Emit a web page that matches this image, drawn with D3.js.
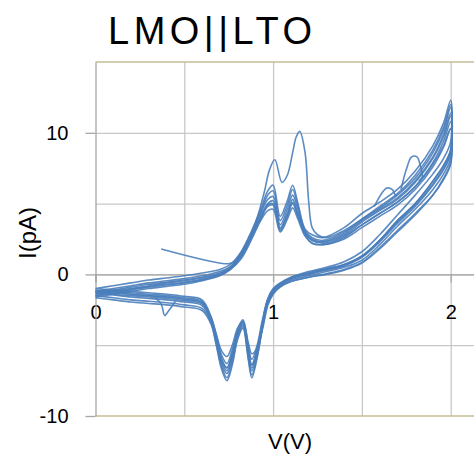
<!DOCTYPE html>
<html>
<head>
<meta charset="utf-8">
<script src="https://cdnjs.cloudflare.com/ajax/libs/d3/7.8.5/d3.min.js"></script>
<style>
  body { margin: 0; background: #fff; }
  svg { display: block; font-family: "Liberation Sans", Arial, sans-serif; }
</style>
</head>
<body>
<svg id="chart" width="474" height="454"></svg>
<script>
// Tick values / labels
const xTicks = [0, 1, 2];
const xGrid = [0.5, 1, 1.5, 2, 2.5];
const yTicks = [-10, 0, 10];
const yGrid = [-5, 0, 5, 10];

// Voltage grids (V) for the forward and reverse sweeps
const anodicV = [0, 0.1, 0.2, 0.3, 0.4, 0.5, 0.6, 0.7, 0.76, 0.82, 0.88, 0.93, 0.97, 1.0, 1.04, 1.08, 1.11, 1.14, 1.18, 1.22, 1.28, 1.4, 1.5, 1.6, 1.7, 1.8, 1.9, 1.96, 2.0];
const cathodicV = [2.0, 1.96, 1.9, 1.8, 1.7, 1.6, 1.5, 1.4, 1.3, 1.2, 1.1, 1.04, 1.0, 0.97, 0.94, 0.91, 0.88, 0.86, 0.83, 0.8, 0.77, 0.74, 0.71, 0.68, 0.65, 0.6, 0.5, 0.4, 0.3, 0.2, 0.1, 0];

// Current (pA) per cycle, forward sweep
const anodic1 = [-1.0, -0.8, -0.6, -0.4, -0.25, -0.1, 0.1, 0.35, 0.7, 1.6, 3.1, 4.6, 5.9, 6.3, 4.1, 5.2, 6.3, 5.0, 3.2, 2.8, 2.6, 3.3, 4.3, 5.1, 6.0, 7.3, 9.1, 10.7, 12.3];
const anodic2 = [-1.2, -1.0, -0.8, -0.6, -0.45, -0.3, -0.1, 0.2, 0.55, 1.5, 3.0, 4.4, 5.6, 5.9, 3.8, 4.9, 6.0, 4.8, 3.1, 2.6, 2.4, 3.0, 3.9, 4.7, 5.6, 6.8, 8.6, 10.2, 11.8];
const anodic3 = [-1.3, -1.1, -0.9, -0.7, -0.55, -0.4, -0.2, 0.1, 0.5, 1.4, 2.9, 4.3, 5.3, 5.5, 3.5, 4.6, 5.6, 4.6, 3.0, 2.5, 2.3, 2.9, 3.8, 4.6, 5.4, 6.6, 8.3, 9.9, 11.4];
const anodic4 = [-1.45, -1.25, -1.05, -0.85, -0.7, -0.55, -0.35, 0.0, 0.45, 1.3, 2.7, 4.1, 5.0, 5.2, 3.3, 4.3, 5.3, 4.3, 2.9, 2.4, 2.2, 2.7, 3.5, 4.3, 5.1, 6.2, 7.9, 9.4, 10.8];
const anodic5 = [-1.6, -1.4, -1.2, -1.0, -0.85, -0.7, -0.45, -0.1, 0.35, 1.2, 2.6, 3.9, 4.8, 4.9, 3.1, 4.1, 5.0, 4.1, 2.8, 2.2, 2.1, 2.5, 3.3, 4.1, 4.9, 6.0, 7.6, 9.0, 10.3];
const anodic6 = [-1.35, -1.15, -1.0, -0.8, -0.6, -0.45, -0.25, 0.05, 0.5, 1.35, 2.8, 4.0, 4.9, 5.0, 3.2, 4.2, 5.1, 4.2, 2.9, 2.4, 2.3, 2.8, 3.7, 4.5, 5.3, 6.5, 8.2, 9.7, 11.2];
const anodic7 = [-1.5, -1.3, -1.1, -0.9, -0.75, -0.6, -0.4, -0.05, 0.35, 1.1, 2.5, 3.8, 4.5, 4.6, 3.0, 3.9, 4.7, 3.9, 2.7, 2.2, 2.1, 2.6, 3.5, 4.3, 5.1, 6.2, 7.8, 9.1, 10.3];

// Current (pA) per cycle, reverse sweep
const cathodic1 = [9.4, 8.2, 7.1, 5.6, 4.2, 2.8, 1.6, 0.9, 0.5, 0.2, -0.2, -0.6, -1.0, -1.7, -3.2, -5.0, -6.0, -5.0, -3.2, -3.9, -5.3, -6.3, -5.7, -4.3, -3.0, -1.8, -1.55, -1.4, -1.3, -1.2, -1.1, -1.0];
const cathodic2 = [8.8, 7.7, 6.6, 5.0, 3.8, 2.4, 1.3, 0.7, 0.4, 0.1, -0.25, -0.65, -1.1, -1.8, -3.4, -5.3, -6.4, -5.3, -3.4, -4.1, -5.6, -6.6, -6.0, -4.5, -3.1, -2.0, -1.75, -1.6, -1.5, -1.4, -1.3, -1.2];
const cathodic3 = [8.5, 7.4, 6.3, 4.8, 3.6, 2.3, 1.2, 0.6, 0.3, 0.0, -0.3, -0.7, -1.2, -1.9, -3.6, -5.6, -6.8, -5.6, -3.6, -4.3, -5.9, -7.0, -6.3, -4.7, -3.3, -2.2, -1.95, -1.8, -1.7, -1.6, -1.45, -1.3];
const cathodic4 = [8.2, 7.1, 6.0, 4.6, 3.4, 2.1, 1.0, 0.5, 0.2, -0.1, -0.4, -0.8, -1.3, -2.0, -3.7, -5.8, -7.1, -5.8, -3.7, -4.5, -6.2, -7.3, -6.5, -4.9, -3.4, -2.4, -2.15, -2.0, -1.9, -1.8, -1.65, -1.5];
const cathodic5 = [7.9, 6.8, 5.6, 4.2, 3.0, 1.8, 0.8, 0.3, 0.0, -0.2, -0.5, -0.85, -1.35, -2.1, -3.8, -5.9, -7.3, -6.0, -3.8, -4.6, -6.4, -7.5, -6.7, -5.0, -3.5, -2.55, -2.3, -2.15, -2.05, -1.95, -1.8, -1.65];
const cathodic6 = [8.6, 7.5, 6.4, 4.9, 3.7, 2.4, 1.25, 0.65, 0.35, 0.05, -0.3, -0.7, -1.15, -1.85, -3.5, -5.4, -6.6, -5.5, -3.5, -4.2, -5.8, -6.8, -6.1, -4.6, -3.2, -2.1, -1.85, -1.7, -1.6, -1.5, -1.4, -1.25];
const cathodic7 = [7.8, 6.7, 5.6, 4.3, 3.1, 1.9, 0.85, 0.35, 0.05, -0.2, -0.5, -0.9, -1.4, -2.2, -3.9, -5.2, -5.6, -4.8, -3.3, -3.8, -5.0, -5.8, -5.4, -4.2, -3.0, -1.9, -1.65, -1.5, -1.4, -1.3, -1.2, -1.1];

// First cycle: starts at open circuit, larger oxidation peaks
const firstV = [0.37, 0.75, 0.78, 0.84, 0.9, 0.95, 0.98, 1.01, 1.05, 1.08, 1.11, 1.13, 1.15, 1.18, 1.2, 1.22, 1.25, 1.3, 1.4, 1.5, 1.6, 1.7, 1.8, 1.9, 1.96, 2.0];
const firstI = [1.8, 0.75, 0.9, 1.9, 3.6, 5.8, 7.4, 8.1, 6.5, 7.0, 8.6, 9.7, 10.1, 8.6, 5.2, 3.3, 2.8, 2.6, 3.1, 3.9, 4.8, 5.7, 7.0, 8.8, 10.4, 12.0];

// Small excursions seen on single cycles
const bumpHighV = [1.72, 1.75, 1.78, 1.81, 1.83, 1.84, 1.82];
const bumpHighI = [6.0, 7.4, 8.3, 8.3, 7.6, 6.9, 6.6];
const bumpLowV = [1.57, 1.61, 1.64, 1.67, 1.69];
const bumpLowI = [4.8, 5.7, 6.1, 6.0, 5.5];
const dipV = [0.34, 0.37, 0.39, 0.41, 0.45];
const dipI = [-1.7, -2.1, -2.9, -2.6, -1.9];

const anodics = [anodic1, anodic2, anodic3, anodic4, anodic5, anodic6, anodic7];
const cathodics = [cathodic1, cathodic2, cathodic3, cathodic4, cathodic5, cathodic6, cathodic7];

// Layout
const margin = { top: 62, left: 95.5 };
const width = 444;
const height = 354;

const xScale = d3.scaleLinear().domain([0, 2.5]).range([0, width]);
const yScale = d3.scaleLinear().domain([-10, 15]).range([height, 0]);

const svg = d3.select('svg#chart');
const g = svg.append('g')
    .attr('transform', `translate(${margin.left}, ${margin.top})`);

// Grid lines
g.append('g')
    .attr('transform', `translate(0, ${height})`)
    .call(d3.axisBottom(xScale).tickValues(xGrid).tickSize(-height).tickFormat(''))
    .call(s => s.select('.domain').remove())
    .selectAll('line').attr('stroke', '#c8c8c8').attr('stroke-width', 1.3);

g.append('g')
    .call(d3.axisLeft(yScale).tickValues(yGrid).tickSize(-width).tickFormat(''))
    .call(s => s.select('.domain').remove())
    .selectAll('line').attr('stroke', '#c8c8c8').attr('stroke-width', 1.3);

// Top / bottom frame
g.append('line')
    .attr('x1', 0).attr('x2', width).attr('y1', 0).attr('y2', 0)
    .attr('stroke', '#c6bc98').attr('stroke-width', 1.5);
g.append('line')
    .attr('x1', 0).attr('x2', width).attr('y1', height).attr('y2', height)
    .attr('stroke', '#c6bc98').attr('stroke-width', 1.5);

// Axes
const xAxis = g.append('g')
    .attr('transform', `translate(0, ${yScale(0)})`)
    .call(d3.axisBottom(xScale).tickValues(xTicks).tickSize(8).tickPadding(22).tickFormat(d => String(d)));
xAxis.select('.domain').attr('stroke', '#a6a6a6').attr('stroke-width', 1.3);
xAxis.selectAll('line').attr('stroke', '#a6a6a6').attr('stroke-width', 1.3);
xAxis.selectAll('text').attr('font-size', 20).attr('fill', '#000')
    .attr('font-family', '"Liberation Sans", Arial, sans-serif');

const yAxis = g.append('g')
    .call(d3.axisLeft(yScale).tickValues(yTicks).tickSize(10).tickPadding(17).tickSizeOuter(0).tickFormat(d => String(d)));
yAxis.select('.domain').attr('stroke', '#a6a6a6').attr('stroke-width', 1.3);
yAxis.selectAll('line').attr('stroke', '#a6a6a6').attr('stroke-width', 1.3);
yAxis.selectAll('text').attr('font-size', 20).attr('fill', '#000')
    .attr('font-family', '"Liberation Sans", Arial, sans-serif');

// Curves
const line = d3.line()
    .x(d => xScale(d[0]))
    .y(d => yScale(d[1]))
    .curve(d3.curveCatmullRom.alpha(0.5));

const cycles = anodics.map((a, i) =>
    anodicV.map((v, j) => [v, a[j]]).concat(cathodicV.map((v, j) => [v, cathodics[i][j]])));

const firstCycle = firstV.map((v, j) => [v, firstI[j]])
    .concat(cathodicV.map((v, j) => [v, cathodic2[j]]));

const extras = [
    bumpHighV.map((v, j) => [v, bumpHighI[j]]),
    bumpLowV.map((v, j) => [v, bumpLowI[j]]),
    dipV.map((v, j) => [v, dipI[j]])
];

g.selectAll('path.cycle')
    .data(cycles.concat([firstCycle], extras))
    .enter()
    .append('path')
    .attr('class', 'cycle')
    .attr('d', line)
    .attr('fill', 'none')
    .attr('stroke', '#4a7ebb')
    .attr('stroke-width', 1.6)
    .attr('stroke-opacity', 0.9);

// Title
svg.append('text')
    .attr('x', 108)
    .attr('y', 44)
    .style('font-size', '38px')
    .style('letter-spacing', '4.5px')
    .text('LMO||LTO');

// Axis labels
svg.append('text')
    .attr('x', 290)
    .attr('y', 449)
    .attr('text-anchor', 'middle')
    .style('font-size', '22px')
    .text('V(V)');

svg.append('text')
    .attr('transform', 'translate(36, 233) rotate(-90)')
    .attr('text-anchor', 'middle')
    .style('font-size', '24px')
    .text('I(pA)');
</script>
</body>
</html>
